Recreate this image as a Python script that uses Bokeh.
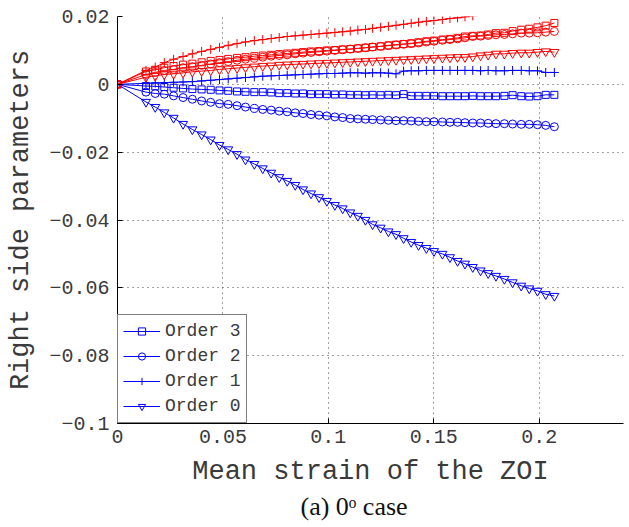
from bokeh.plotting import figure
from bokeh.models import (Range1d, FixedTicker, Legend, LegendItem, Title)
from bokeh.embed import file_html
from bokeh.resources import INLINE

# Mean strain of the ZOI at each analysed state
strain = [0, 0.0135, 0.0179, 0.0222, 0.0266, 0.0311, 0.0355, 0.0399, 0.0442, 0.0484,
          0.0525, 0.0567, 0.0607, 0.0649, 0.0689, 0.0729, 0.0767, 0.0805, 0.0843, 0.0880,
          0.0918, 0.0956, 0.0993, 0.1031, 0.1068, 0.1104, 0.1140, 0.1176, 0.1210, 0.1248,
          0.1285, 0.1321, 0.1357, 0.1393, 0.1428, 0.1465, 0.1501, 0.1541, 0.1577, 0.1613,
          0.1648, 0.1685, 0.1722, 0.1758, 0.1795, 0.1835, 0.1874, 0.1915, 0.1953, 0.1992,
          0.2031, 0.2072]

# Blue series (shown in the legend)
blue_order3 = [0, -0.0005, -0.0006, -0.0008, -0.0010, -0.0012, -0.0014, -0.0015, -0.0016, -0.0018,
               -0.0019, -0.0021, -0.0022, -0.0023, -0.0023, -0.0024, -0.0026, -0.0026, -0.0027, -0.0027,
               -0.0029, -0.0029, -0.0029, -0.0030, -0.0030, -0.0031, -0.0031, -0.0032, -0.0031, -0.0032,
               -0.0031, -0.0032, -0.0029, -0.0034, -0.0034, -0.0034, -0.0034, -0.0035, -0.0035, -0.0035,
               -0.0035, -0.0034, -0.0035, -0.0035, -0.0035, -0.0034, -0.0032, -0.0035, -0.0036, -0.0035,
               -0.0031, -0.0031]
blue_order2 = [0, -0.0023, -0.0027, -0.0029, -0.0034, -0.0039, -0.0044, -0.0049, -0.0053, -0.0057,
               -0.0059, -0.0063, -0.0067, -0.0071, -0.0074, -0.0076, -0.0079, -0.0081, -0.0084, -0.0086,
               -0.0089, -0.0091, -0.0093, -0.0096, -0.0098, -0.0101, -0.0102, -0.0103, -0.0104, -0.0105,
               -0.0106, -0.0107, -0.0107, -0.0108, -0.0109, -0.0110, -0.0110, -0.0111, -0.0112, -0.0112,
               -0.0113, -0.0114, -0.0114, -0.0115, -0.0116, -0.0116, -0.0117, -0.0118, -0.0118, -0.0119,
               -0.0121, -0.0125]
blue_order1 = [0, 0.0003, 0.0004, 0.0005, 0.0006, 0.0007, 0.0008, 0.0010, 0.0012, 0.0014,
               0.0016, 0.0018, 0.0020, 0.0022, 0.0024, 0.0025, 0.0026, 0.0027, 0.0028, 0.0029,
               0.0030, 0.0031, 0.0032, 0.0032, 0.0033, 0.0034, 0.0034, 0.0033, 0.0034, 0.0034,
               0.0033, 0.0031, 0.0039, 0.0040, 0.0040, 0.0041, 0.0041, 0.0041, 0.0041, 0.0041,
               0.0041, 0.0041, 0.0040, 0.0041, 0.0040, 0.0040, 0.0041, 0.0041, 0.0040, 0.0040,
               0.0035, 0.0035]
blue_order0 = [0, -0.0052, -0.0067, -0.0083, -0.0099, -0.0117, -0.0133, -0.0148, -0.0163, -0.0179,
               -0.0192, -0.0206, -0.0222, -0.0235, -0.0248, -0.0261, -0.0274, -0.0285, -0.0297, -0.0310,
               -0.0322, -0.0333, -0.0344, -0.0356, -0.0366, -0.0378, -0.0388, -0.0400, -0.0413, -0.0423,
               -0.0434, -0.0442, -0.0454, -0.0465, -0.0474, -0.0483, -0.0492, -0.0500, -0.0510, -0.0521,
               -0.0529, -0.0539, -0.0549, -0.0557, -0.0565, -0.0574, -0.0584, -0.0594, -0.0602, -0.0609,
               -0.0619, -0.0624]

# Red series
red_order3 = [0, 0.0038, 0.0043, 0.0049, 0.0054, 0.0058, 0.0061, 0.0065, 0.0069, 0.0072,
              0.0075, 0.0078, 0.0080, 0.0083, 0.0085, 0.0087, 0.0089, 0.0091, 0.0093, 0.0095,
              0.0097, 0.0098, 0.0100, 0.0101, 0.0103, 0.0104, 0.0106, 0.0108, 0.0110, 0.0112,
              0.0115, 0.0117, 0.0119, 0.0121, 0.0124, 0.0127, 0.0129, 0.0132, 0.0134, 0.0137,
              0.0141, 0.0143, 0.0144, 0.0147, 0.0151, 0.0152, 0.0157, 0.0161, 0.0164, 0.0168,
              0.0173, 0.0181]
red_order2 = [0, 0.0029, 0.0035, 0.0041, 0.0044, 0.0049, 0.0052, 0.0056, 0.0060, 0.0064,
              0.0067, 0.0071, 0.0074, 0.0077, 0.0080, 0.0083, 0.0085, 0.0087, 0.0090, 0.0092,
              0.0094, 0.0096, 0.0098, 0.0100, 0.0102, 0.0104, 0.0106, 0.0108, 0.0110, 0.0112,
              0.0114, 0.0116, 0.0118, 0.0120, 0.0122, 0.0125, 0.0127, 0.0130, 0.0132, 0.0134,
              0.0137, 0.0141, 0.0142, 0.0144, 0.0146, 0.0147, 0.0149, 0.0151, 0.0151, 0.0152,
              0.0154, 0.0156]
red_order1 = [0, 0.0041, 0.0051, 0.0064, 0.0074, 0.0082, 0.0090, 0.0097, 0.0103, 0.0109,
              0.0115, 0.0120, 0.0125, 0.0129, 0.0132, 0.0135, 0.0138, 0.0141, 0.0143, 0.0145,
              0.0147, 0.0149, 0.0151, 0.0153, 0.0155, 0.0157, 0.0160, 0.0162, 0.0165, 0.0168,
              0.0171, 0.0174, 0.0177, 0.0180, 0.0183, 0.0186, 0.0188, 0.0191, 0.0194, 0.0196,
              0.0199, 0.0202]
red_order0 = [0, 0.0021, 0.0025, 0.0029, 0.0031, 0.0034, 0.0037, 0.0039, 0.0041, 0.0044,
              0.0046, 0.0048, 0.0050, 0.0052, 0.0054, 0.0055, 0.0057, 0.0058, 0.0059, 0.0060,
              0.0061, 0.0062, 0.0063, 0.0064, 0.0065, 0.0066, 0.0067, 0.0068, 0.0069, 0.0070,
              0.0071, 0.0072, 0.0073, 0.0074, 0.0075, 0.0076, 0.0077, 0.0078, 0.0079, 0.0080,
              0.0080, 0.0082, 0.0085, 0.0087, 0.0090, 0.0090, 0.0092, 0.0093, 0.0093, 0.0095,
              0.0097, 0.0095]

order_labels = ["Order 3", "Order 2", "Order 1", "Order 0"]

x_ticks = [0, 0.05, 0.1, 0.15, 0.2]
x_tick_labels = ["0", "0.05", "0.1", "0.15", "0.2"]
y_ticks = [-0.1, -0.08, -0.06, -0.04, -0.02, 0, 0.02]
y_tick_labels = ["\u22120.1", "\u22120.08", "\u22120.06", "\u22120.04", "\u22120.02", "0", "0.02"]

caption_text = "(a) 0\u1d52 case"

MONO = "Liberation Mono"
SERIF = "Liberation Serif"
BLUE = "#0000ff"
RED = "#ff0000"
TXT = "#3a3a3a"

p = figure(width=629, height=527, output_backend="svg", toolbar_location=None,
           x_range=Range1d(0, 0.24), y_range=Range1d(-0.1, 0.02),
           min_border_left=117, min_border_right=6, min_border_top=16, min_border_bottom=104)
p.outline_line_color = None
p.background_fill_color = "white"
p.border_fill_color = "white"

for ax, ticks, labels in ((p.xaxis[0], x_ticks, x_tick_labels), (p.yaxis[0], y_ticks, y_tick_labels)):
    ax.ticker = FixedTicker(ticks=ticks)
    ax.major_label_overrides = dict(zip(ticks, labels))
    ax.major_tick_in = 5
    ax.major_tick_out = 0
    ax.minor_tick_line_color = None
    ax.axis_line_color = "black"
    ax.major_tick_line_color = "black"
    ax.major_label_text_font = MONO
    ax.major_label_text_font_size = "20px"
    ax.major_label_text_color = TXT
    ax.axis_label_text_font = MONO
    ax.axis_label_text_font_size = "27px"
    ax.axis_label_text_font_style = "normal"
    ax.axis_label_text_color = TXT

p.xaxis.axis_label = "Mean strain of the ZOI"
p.yaxis.axis_label = "Right side parameters"
p.xaxis.major_label_standoff = 6
p.yaxis.major_label_standoff = 8
p.xaxis.axis_label_standoff = 11
p.yaxis.axis_label_standoff = 10

for g in (p.xgrid[0], p.ygrid[0]):
    g.grid_line_color = "#444444"
    g.grid_line_dash = "1 4"
    g.grid_line_width = 1

markers = ["square", "circle", "cross", "inverted_triangle"]
sizes = [7, 8, 9, 9]

items = []
blue_sets = [blue_order3, blue_order2, blue_order1, blue_order0]
for ys, mk, sz, lab in zip(blue_sets, markers, sizes, order_labels):
    xs = strain[:len(ys)]
    ln = p.line(xs, ys, line_color=BLUE, line_width=1)
    sc = p.scatter(xs, ys, marker=mk, size=sz, line_color=BLUE, fill_color=None, line_width=1)
    items.append(LegendItem(label=lab, renderers=[ln, sc]))

red_sets = [red_order3, red_order2, red_order1, red_order0]
for ys, mk, sz in zip(red_sets, markers, sizes):
    xs = strain[:len(ys)]
    p.line(xs, ys, line_color=RED, line_width=1)
    p.scatter(xs, ys, marker=mk, size=sz, line_color=RED, fill_color=None, line_width=1)

legend = Legend(items=items, location="bottom_left", margin=0, padding=5, spacing=3,
                glyph_width=37, glyph_height=18, label_height=22, label_standoff=5,
                border_line_color="black", border_line_width=1, background_fill_alpha=1,
                label_text_font=MONO, label_text_font_size="18px", label_text_color=TXT)
p.add_layout(legend)

# sub-figure caption under the axis label
caption = Title(text=caption_text, align="left", offset=183, standoff=0,
                text_font=SERIF, text_font_size="26px", text_font_style="normal",
                text_color="#111111")
p.add_layout(caption, "below")

open("out.html", "w").write(file_html(p, INLINE))
